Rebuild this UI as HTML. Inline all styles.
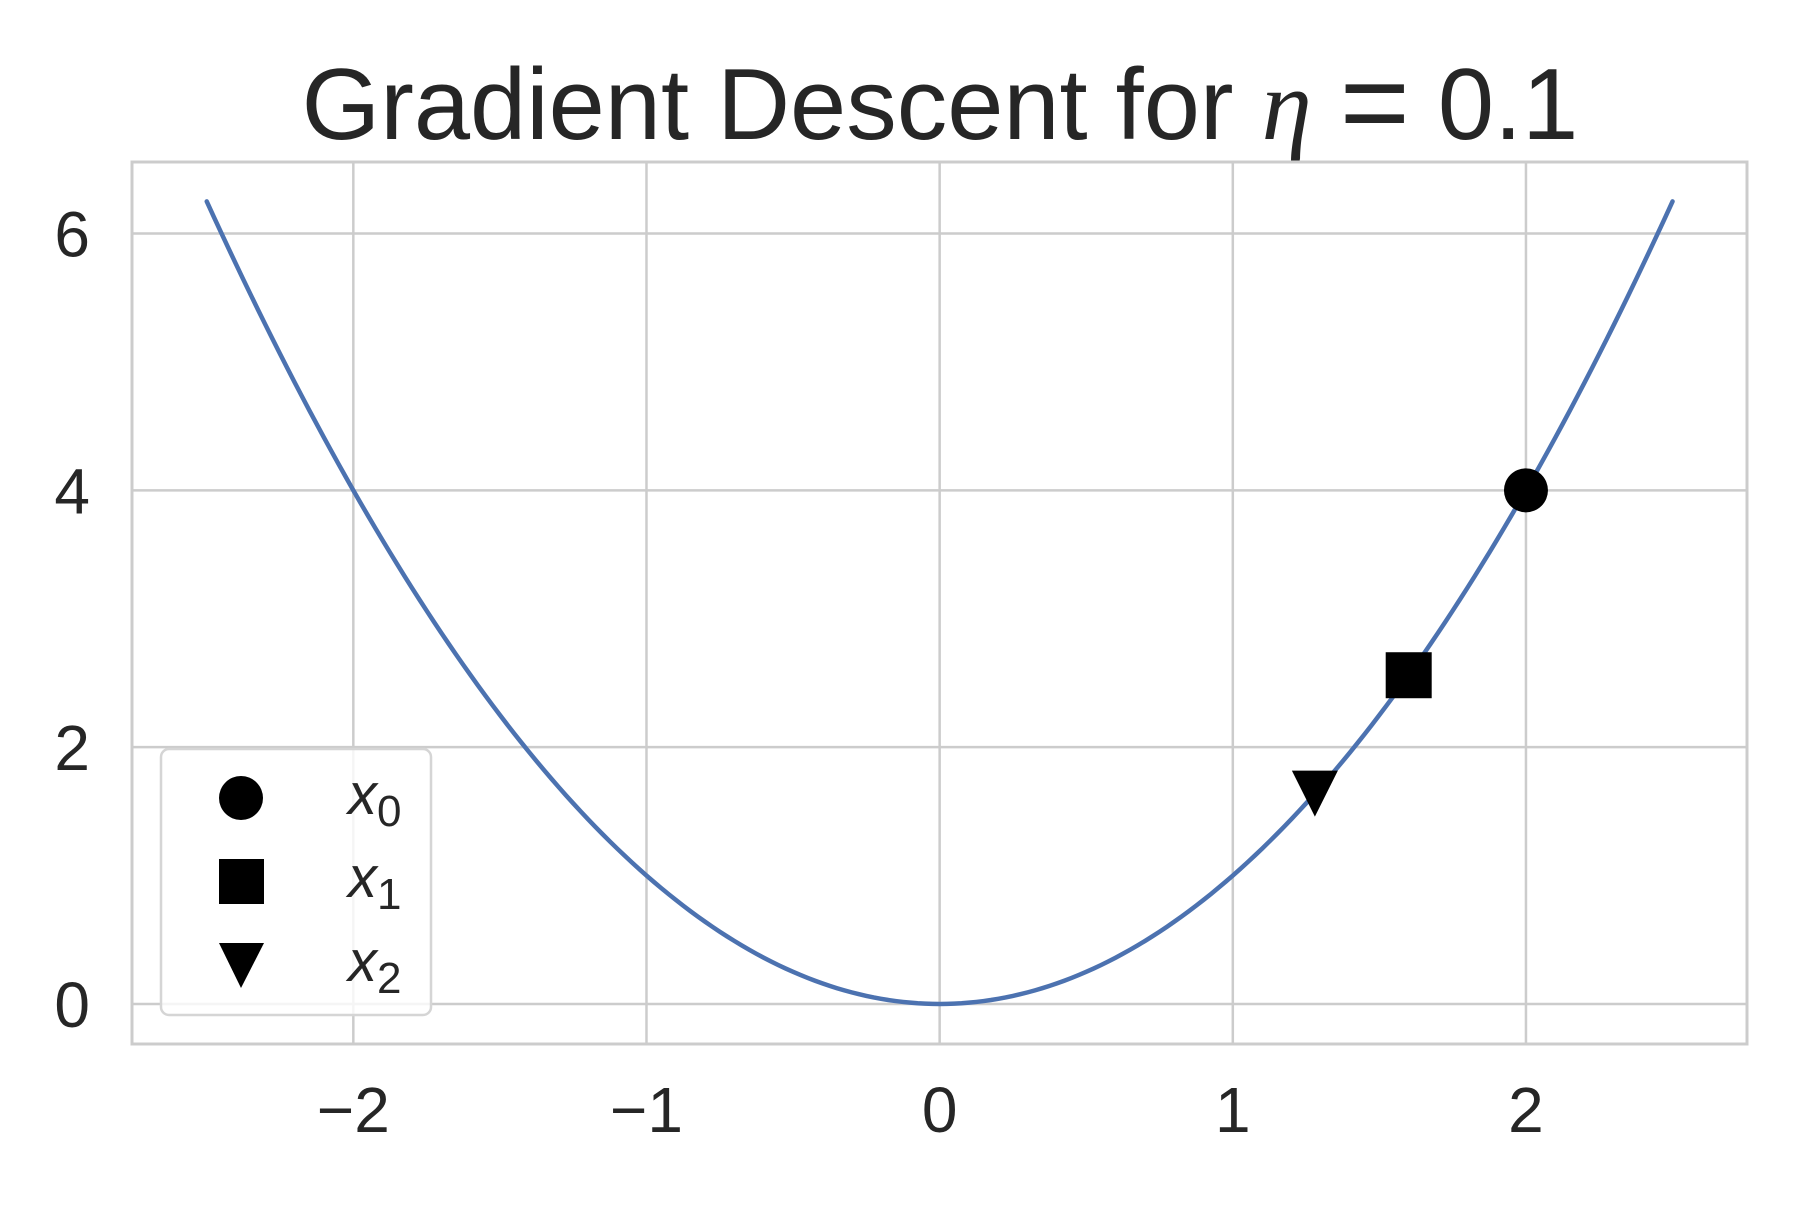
<!DOCTYPE html>
<html><head><meta charset="utf-8"><style>
html,body{margin:0;padding:0;background:#fff;}
svg text{font-family:"Liberation Sans",sans-serif;fill:#262626;}
</style></head><body>
<svg width="1800" height="1200" viewBox="0 0 1800 1200">
<g id="grid"></g>
<g id="curve"></g>
<g id="markers"></g>
<g id="ticks"></g>
<rect x="132" y="162" width="1615" height="882" fill="none" stroke="#cccccc" stroke-width="3"/>
<text x="940" y="139" font-size="101" text-anchor="middle">Gradient Descent for <tspan font-family="Liberation Serif" font-style="italic">η</tspan> <tspan font-size="120" dy="4">=</tspan><tspan dy="-4"> 0.1</tspan></text>
<g>
<rect x="161" y="749" width="270" height="266" rx="8" fill="#fff" fill-opacity="0.8" stroke="#d5d5d5" stroke-width="2.5"/>
<circle cx="241" cy="798" r="22" fill="#000"/>
<text x="348" y="814" font-size="58" font-style="italic">x<tspan font-style="normal" font-size="44" dy="12">0</tspan></text>
<rect x="219" y="859" width="45" height="45" fill="#000"/>
<text x="348" y="897" font-size="58" font-style="italic">x<tspan font-style="normal" font-size="44" dy="12">1</tspan></text>
<polygon points="219,943 264,943 241,988" fill="#000"/>
<text x="348" y="981" font-size="58" font-style="italic">x<tspan font-style="normal" font-size="44" dy="12">2</tspan></text>
</g>
</svg>
<script>
const xTicks=[-2,-1,0,1,2];
const xTickLabels=["−2","−1","0","1","2"];
const yTicks=[0,2,4,6];
const yTickLabels=["0","2","4","6"];
const pointX=[2,1.6,1.28];
const pointY=[4,2.56,1.6384];
const pointNames=["x0","x1","x2"];
const curveXMin=-2.5, curveXMax=2.5;

const X0=132,X1=1747,Y0=1044,Y1=162;
const xMin=-2.755,xMax=2.754,yMin=-0.312,yMax=6.557;
const sx=v=>X0+(v-xMin)/(xMax-xMin)*(X1-X0);
const sy=v=>Y0-(v-yMin)/(yMax-yMin)*(Y0-Y1);
const NS="http://www.w3.org/2000/svg";
function mk(tag,attrs,parent){const e=document.createElementNS(NS,tag);for(const k in attrs)e.setAttribute(k,attrs[k]);parent.appendChild(e);return e;}
const grid=document.getElementById('grid'),ticks=document.getElementById('ticks');
xTicks.forEach((t,i)=>{
  const l=mk('line',{x1:sx(t),x2:sx(t),y1:Y1,y2:Y0,stroke:'#cccccc','stroke-width':2.5},grid);
  
  
  const tx=mk('text',{x:sx(t),y:1132,'font-size':64,'text-anchor':'middle'},ticks);
  tx.textContent=xTickLabels[i];
  
  
});
yTicks.forEach((t,i)=>{
  const l=mk('line',{x1:X0,x2:X1,y1:sy(t),y2:sy(t),stroke:'#cccccc','stroke-width':2.5},grid);
  
  
  const tx=mk('text',{x:90,y:sy(t)+23,'font-size':64,'text-anchor':'end'},ticks);
  tx.textContent=yTickLabels[i];
  
  
});
let d='';
for(let i=0;i<=200;i++){const x=curveXMin+(curveXMax-curveXMin)*i/200;d+=(i?'L':'M')+sx(x).toFixed(2)+' '+sy(x*x).toFixed(2);}
const path=mk('path',{d:d,fill:'none',stroke:'#4c72b0','stroke-width':4.5,'stroke-linecap':'round'},document.getElementById('curve'));


const mg=document.getElementById('markers');
pointX.forEach((x,i)=>{
  const cx=sx(x),cy=sy(pointY[i]);let e;
  if(i===0)e=mk('circle',{cx:cx,cy:cy,r:22,fill:'#000'},mg);
  else if(i===1)e=mk('rect',{x:cx-23,y:cy-23,width:46,height:46,fill:'#000'},mg);
  else e=mk('polygon',{points:`${cx-23},${cy-23} ${cx+23},${cy-23} ${cx},${cy+23}`,fill:'#000'},mg);
  
  
});
</script>
</body></html>
